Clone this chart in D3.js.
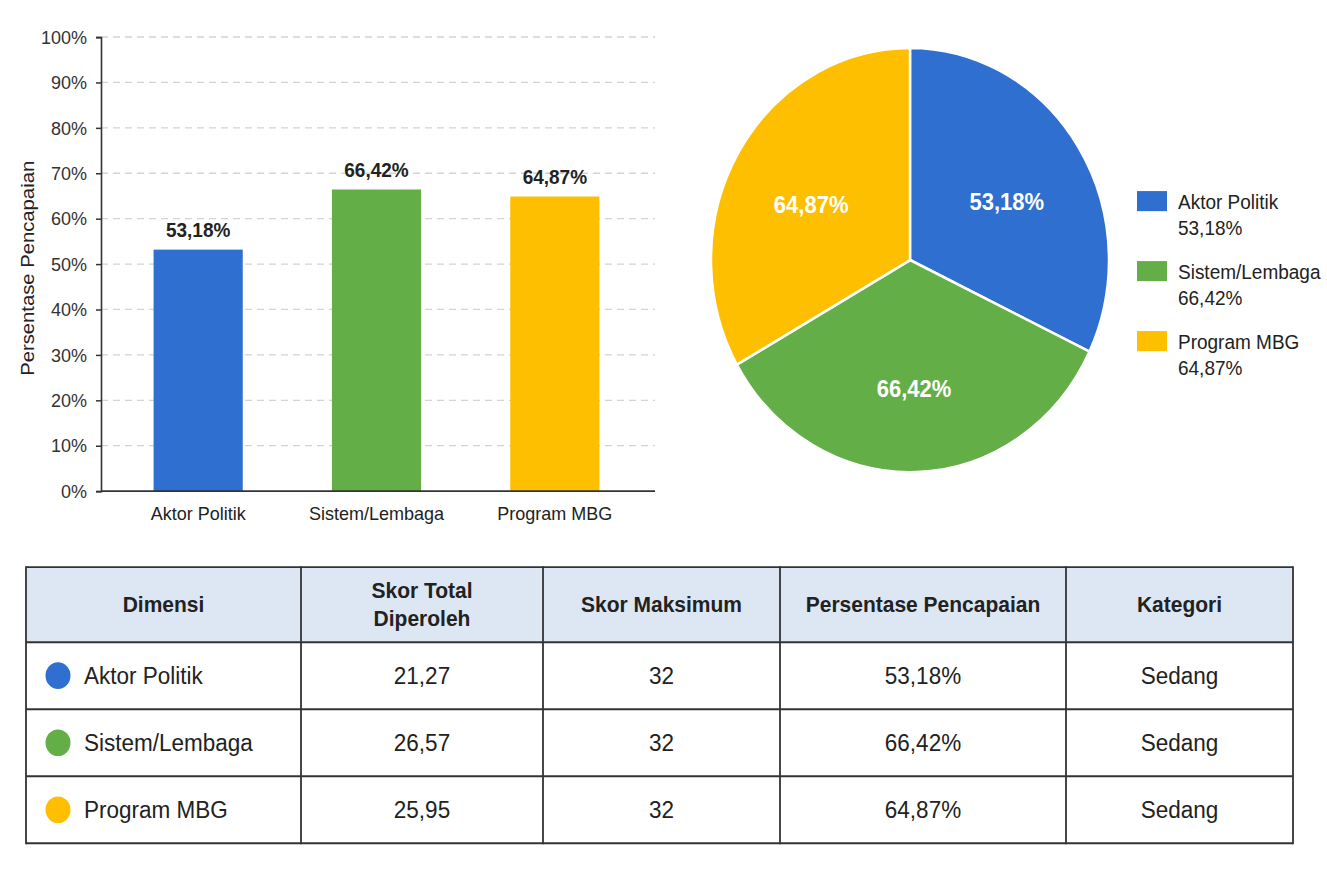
<!DOCTYPE html>
<html>
<head>
<meta charset="utf-8">
<script src="https://cdn.jsdelivr.net/npm/d3@7"></script>
<style>
  html, body { margin: 0; padding: 0; background: #ffffff; }
  svg { display: block; font-family: "Liberation Sans", Arial, sans-serif; }
</style>
</head>
<body>
<svg id="chart" width="1327" height="885" viewBox="0 0 1327 830" preserveAspectRatio="none"></svg>
<script>
// ---------------- DATA ----------------
const categories = ["Aktor Politik", "Sistem/Lembaga", "Program MBG"];
const percentValues = [53.18, 66.42, 64.87];
const skorTotal = [21.27, 26.57, 25.95];
const skorMaksimum = [32, 32, 32];
const kategori = ["Sedang", "Sedang", "Sedang"];
// relative slice sizes as drawn in the pie
const pieSliceShares = [32.1, 34.7, 33.2];
const yTickValues = [0, 10, 20, 30, 40, 50, 60, 70, 80, 90, 100];
const tableHeaders = [["Dimensi"], ["Skor Total", "Diperoleh"], ["Skor Maksimum"], ["Persentase Pencapaian"], ["Kategori"]];
const seriesColors = ["#2f6fd0", "#64ae47", "#fdbf00"];

// ---------------- HELPERS ----------------
const locale = d3.formatLocale({ decimal: ",", thousands: ".", grouping: [3], currency: ["", ""] });
const fmt2 = locale.format(".2f");
const pct = v => fmt2(v) + "%";

const svg = d3.select("#chart");
const textColor = "#222";

// ---------------- BAR CHART ----------------
const bar = { left: 101, right: 655, top: 34.7, bottom: 460.6 };
const y = d3.scaleLinear().domain([0, 100]).range([bar.bottom, bar.top]);
const x = d3.scaleBand().domain(categories).range([109, 644]).paddingInner(0.5).paddingOuter(0.25);

const gBar = svg.append("g");

// grid
gBar.append("g").selectAll("line").data(yTickValues.filter(d => d > 0)).join("line")
  .attr("x1", bar.left).attr("x2", bar.right)
  .attr("y1", d => y(d)).attr("y2", d => y(d))
  .attr("stroke", "#d4d4d4").attr("stroke-width", 1.2).attr("stroke-dasharray", "7,5");

// bars
gBar.append("g").selectAll("rect").data(categories).join("rect")
  .attr("x", d => x(d)).attr("width", x.bandwidth())
  .attr("y", (d, i) => y(percentValues[i]))
  .attr("height", (d, i) => y(0) - y(percentValues[i]))
  .attr("fill", (d, i) => seriesColors[i]);

// value labels
gBar.append("g").selectAll("text").data(categories).join("text")
  .attr("x", d => x(d) + x.bandwidth() / 2)
  .attr("y", (d, i) => y(percentValues[i]) - 12)
  .attr("text-anchor", "middle")
  .attr("font-size", 19).attr("font-weight", "bold").attr("fill", textColor)
  .text((d, i) => pct(percentValues[i]));

// y axis
const yAxis = d3.axisLeft(y).tickValues(yTickValues).tickFormat(d => d + "%").tickSize(5).tickPadding(9);
const gy = gBar.append("g").attr("transform", `translate(${bar.left},0)`).call(yAxis);
gy.select(".domain").attr("stroke", "#333").attr("stroke-width", 1.6);
gy.selectAll(".tick line").attr("stroke", "#333").attr("stroke-width", 1.4);
gy.selectAll(".tick text").attr("font-size", 18).attr("fill", "#333").attr("font-family", "Liberation Sans, Arial, sans-serif");

// x axis
const xAxis = d3.axisBottom(x).tickSize(0).tickPadding(14);
const gx = gBar.append("g").attr("transform", `translate(0,${bar.bottom})`).call(xAxis);
gx.select(".domain").attr("d", `M${bar.left},0H${bar.right}`).attr("stroke", "#333").attr("stroke-width", 1.6);
gx.selectAll(".tick text").attr("font-size", 18).attr("fill", textColor).attr("font-family", "Liberation Sans, Arial, sans-serif");

// y title
gBar.append("text")
  .attr("transform", `translate(27,${(bar.top + bar.bottom) / 2 + 4}) rotate(-90)`)
  .attr("text-anchor", "middle").attr("dominant-baseline", "central")
  .attr("font-size", 19).attr("fill", textColor)
  .text("Persentase Pencapaian");

// ---------------- PIE ----------------
const pieCenter = [910, 243.9];
const pieR = 199;
const pie = d3.pie().sort(null).value(d => d)(pieSliceShares);
const arc = d3.arc().innerRadius(0).outerRadius(pieR);
const labelArc = d3.arc().innerRadius(0).outerRadius(pieR * 1.15);
const gPie = svg.append("g").attr("transform", `translate(${pieCenter[0]},${pieCenter[1]})`);
gPie.selectAll("path").data(pie).join("path")
  .attr("d", arc)
  .attr("fill", (d, i) => seriesColors[i])
  .attr("stroke", "#fff").attr("stroke-width", 2.5).attr("stroke-linejoin", "round");
gPie.selectAll("text").data(pie).join("text")
  .attr("transform", d => { const c = labelArc.centroid(d); return `translate(${c[0]},${c[1] + 6})`; })
  .attr("text-anchor", "middle").attr("dominant-baseline", "central")
  .attr("font-size", 22).attr("font-weight", "bold").attr("fill", "#fff")
  .text((d, i) => pct(percentValues[i]));

// legend
const gLeg = svg.append("g");
const legY = d3.scalePoint().domain(categories).range([179.2, 310.5]);
const legItems = gLeg.selectAll("g").data(categories).join("g")
  .attr("transform", d => `translate(1137,${legY(d)})`);
legItems.append("rect").attr("width", 30).attr("height", 18.8)
  .attr("fill", (d, i) => seriesColors[i]);
legItems.append("text").attr("x", 41).attr("y", 16.8)
  .attr("font-size", 19).attr("fill", textColor).text(d => d);
legItems.append("text").attr("x", 41).attr("y", 41.3)
  .attr("font-size", 19).attr("fill", textColor).text((d, i) => pct(percentValues[i]));

// ---------------- TABLE ----------------
const colEdges = [26, 301, 543, 780, 1066, 1293];
const rowEdges = [531.9, 602.3, 665.1, 728.0, 790.8];
const gTab = svg.append("g");

gTab.append("rect")
  .attr("x", colEdges[0]).attr("y", rowEdges[0])
  .attr("width", colEdges[5] - colEdges[0]).attr("height", rowEdges[1] - rowEdges[0])
  .attr("fill", "#dde7f4");

// header text
tableHeaders.forEach((lines, c) => {
  const cx = (colEdges[c] + colEdges[c + 1]) / 2;
  const cy = (rowEdges[0] + rowEdges[1]) / 2;
  const lh = 26.3;
  lines.forEach((ln, k) => {
    gTab.append("text")
      .attr("x", cx).attr("y", cy + (k - (lines.length - 1) / 2) * lh)
      .attr("text-anchor", "middle").attr("dominant-baseline", "central")
      .attr("font-size", 21).attr("font-weight", "bold").attr("fill", textColor)
      .text(ln);
  });
});

// body rows
categories.forEach((cat, r) => {
  const cy = (rowEdges[r + 1] + rowEdges[r + 2]) / 2;
  gTab.append("ellipse").attr("cx", 58).attr("cy", cy).attr("rx", 12.5).attr("ry", 12.5)
    .attr("fill", seriesColors[r]);
  gTab.append("text").attr("x", 84).attr("y", cy)
    .attr("dominant-baseline", "central").attr("font-size", 22.5).attr("fill", textColor).text(cat);
  const cells = [fmt2(skorTotal[r]), String(skorMaksimum[r]), pct(percentValues[r]), kategori[r]];
  cells.forEach((t, k) => {
    const c = k + 1;
    gTab.append("text")
      .attr("x", (colEdges[c] + colEdges[c + 1]) / 2).attr("y", cy)
      .attr("text-anchor", "middle").attr("dominant-baseline", "central")
      .attr("font-size", 22.5).attr("fill", textColor).text(t);
  });
});

// grid lines of table
rowEdges.forEach(yy => {
  gTab.append("line").attr("x1", colEdges[0]).attr("x2", colEdges[5]).attr("y1", yy).attr("y2", yy)
    .attr("stroke", "#333").attr("stroke-width", 1.8);
});
colEdges.forEach(xx => {
  gTab.append("line").attr("x1", xx).attr("x2", xx).attr("y1", rowEdges[0] - 0.9).attr("y2", rowEdges[4] + 0.9)
    .attr("stroke", "#333").attr("stroke-width", 1.8);
});
</script>
</body>
</html>
